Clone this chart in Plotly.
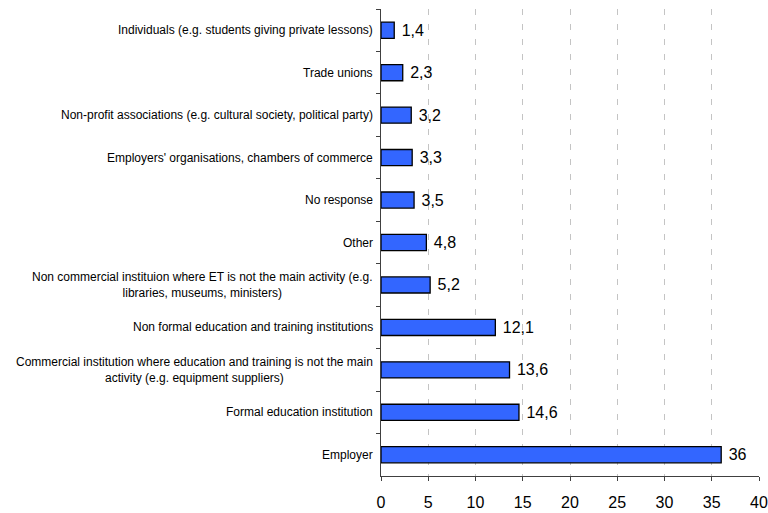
import plotly.graph_objects as go

# Categories listed top to bottom
categories = [
    "Individuals (e.g. students giving private lessons)",
    "Trade unions",
    "Non-profit associations (e.g. cultural society, political party)",
    "Employers' organisations, chambers of commerce",
    "No response",
    "Other",
    "Non commercial instituion where ET is not the main activity (e.g.<br>libraries, museums, ministers)",
    "Non formal education and training institutions",
    "Commercial institution where education and training is not the main<br>activity (e.g. equipment suppliers)",
    "Formal education institution",
    "Employer",
]
values = [1.4, 2.3, 3.2, 3.3, 3.5, 4.8, 5.2, 12.1, 13.6, 14.6, 36]
x_ticks = [0, 5, 10, 15, 20, 25, 30, 35, 40]

FONT = "Liberation Sans, Arial, sans-serif"

fig = go.Figure(
    go.Bar(
        x=values,
        y=categories,
        orientation="h",
        marker=dict(color="#3366FF", line=dict(color="#000000", width=1.3)),
        texttemplate=" %{x}",
        textposition="outside",
        textfont=dict(family=FONT, size=16, color="#000000"),
        constraintext="none",
        cliponaxis=False,
        hoverinfo="skip",
    )
)

# Category labels drawn as annotations so wrapped lines are centred
for cat in categories:
    fig.add_annotation(
        x=0, xref="paper", y=cat, yref="y",
        text=cat, showarrow=False,
        xanchor="right", yanchor="middle", align="center",
        xshift=-6,
        font=dict(family=FONT, size=12, color="#000000"),
    )

fig.update_layout(
    width=768, height=513,
    margin=dict(l=381, r=9, t=9, b=37, autoexpand=False),
    paper_bgcolor="white", plot_bgcolor="white",
    separators=",.",
    showlegend=False,
    bargap=0.62,
    font=dict(family=FONT, color="#000000"),
)

fig.update_xaxes(
    range=[0, 40],
    tickvals=x_ticks,
    automargin=False,
    showgrid=True, gridcolor="#c4c4c4", gridwidth=1, griddash="6px,9px",
    zeroline=False,
    showline=True, linecolor="#404040", linewidth=1,
    ticks="outside", ticklen=4, tickcolor="#404040",
    tickfont=dict(family=FONT, size=16, color="#000000"),
    ticklabelstandoff=8,
)

fig.update_yaxes(
    categoryorder="array", categoryarray=categories,
    autorange="reversed",
    automargin=False,
    showgrid=False, zeroline=False,
    showline=True, linecolor="#404040", linewidth=1,
    ticks="outside", ticklen=4, tickcolor="#404040",
    tickson="boundaries",
    showticklabels=False,
)

fig.write_html("out.html")
